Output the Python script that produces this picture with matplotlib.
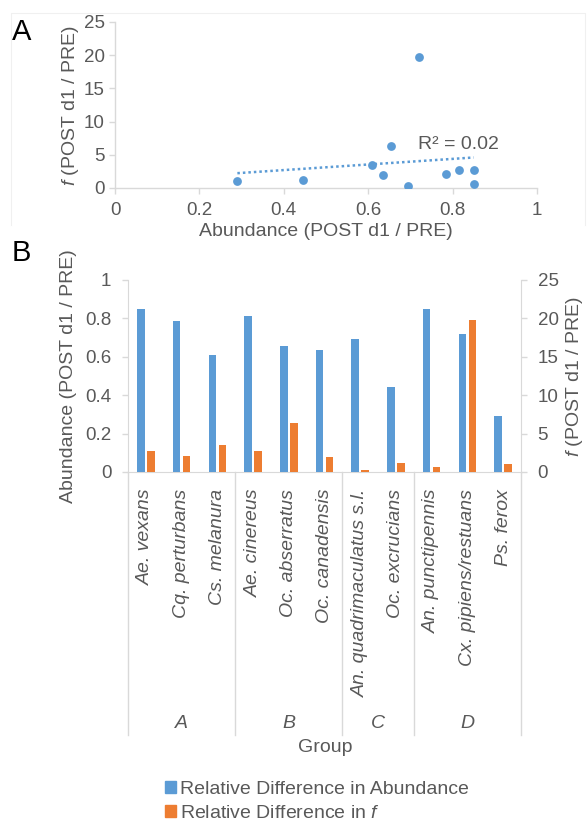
import numpy as np
import matplotlib
matplotlib.use("Agg")
import matplotlib.pyplot as plt
from matplotlib.patches import Patch
from matplotlib.lines import Line2D

plt.rcParams['font.family'] = ['Liberation Sans', 'DejaVu Sans']
plt.rcParams['mathtext.fontset'] = 'custom'
plt.rcParams['mathtext.rm'] = 'Liberation Sans'
plt.rcParams['mathtext.it'] = 'Liberation Sans:italic'

# data
species = ['Ae. vexans', 'Cq. perturbans', 'Cs. melanura', 'Ae. cinereus',
           'Oc. abserratus', 'Oc. canadensis', 'An. quadrimaculatus s.l.',
           'Oc. excrucians', 'An. punctipennis', 'Cx. pipiens/restuans', 'Ps. ferox']
abundance = [0.85, 0.785, 0.61, 0.815, 0.655, 0.635, 0.695, 0.445, 0.85, 0.72, 0.29]
f_ratio = [2.7, 2.1, 3.5, 2.67, 6.35, 1.9, 0.3, 1.2, 0.6, 19.8, 1.0]
groups = ['A', 'B', 'C', 'D']
group_sizes = [3, 3, 2, 3]

blue = '#5B9BD5'
orange = '#ED7D31'
axis_col = '#D9D9D9'
text_col = '#595959'
W, H = 587, 826

fig = plt.figure(figsize=(W / 100, H / 100), dpi=100)

def fx(px):
    return px / W

def fy(py):
    return 1 - py / H

# faint chart-area border of panel A (Excel)
fig.add_artist(Line2D([fx(11), fx(11), fx(585), fx(585)], [fy(225), fy(13), fy(13), fy(225)],
                      transform=fig.transFigure, color='#F0F0F0', lw=0.8))

# ---------- Panel A: scatter ----------
axA = fig.add_axes([fx(115), fy(188), fx(422), 166 / H])
axA.scatter(abundance, f_ratio, s=40, color=blue, zorder=3, linewidths=0)
coef = np.polyfit(abundance, f_ratio, 1)
xs = np.array([min(abundance), max(abundance)])
axA.plot(xs, np.polyval(coef, xs), ls=(0, (1, 1.2)), color=blue, lw=1.8)
axA.text(0.718, 6.5, 'R² = 0.02', fontsize=14, color=text_col, va='center', ha='left')
axA.set_xlim(0, 1)
axA.set_ylim(0, 25)
axA.set_xticks(np.arange(0, 1.01, 0.2))
axA.set_xticklabels(['0', '0.2', '0.4', '0.6', '0.8', '1'])
axA.set_yticks(np.arange(0, 26, 5))
for s in ['top', 'right']:
    axA.spines[s].set_visible(False)
for s in ['left', 'bottom']:
    axA.spines[s].set_color(axis_col)
    axA.spines[s].set_linewidth(1)
axA.tick_params(colors=axis_col, labelcolor=text_col, labelsize=13.5, length=4, width=1)
axA.tick_params(axis='x', pad=6)
axA.set_xlabel('Abundance (POST d1 / PRE)', fontsize=14, color=text_col, labelpad=3)
axA.set_ylabel('$f$ (POST d1 / PRE)', fontsize=14, color=text_col, labelpad=2)

# ---------- Panel B: bars ----------
axB = fig.add_axes([fx(128), fy(472), fx(393), 192 / H])
axB2 = axB.twinx()
x = np.arange(len(species))
bw = 0.21
axB.bar(x - 0.14, abundance, width=bw, color=blue, zorder=3)
axB2.bar(x + 0.14, f_ratio, width=bw, color=orange, zorder=3)
axB.set_xlim(-0.5, len(species) - 0.5)
axB.set_ylim(0, 1)
axB2.set_ylim(0, 25)
axB.set_yticks(np.arange(0, 1.01, 0.2))
axB.set_yticklabels(['0', '0.2', '0.4', '0.6', '0.8', '1'])
axB2.set_yticks(np.arange(0, 26, 5))
axB.set_xticks(x)
axB.set_xticklabels(species, rotation=90, fontstyle='italic', fontsize=14, color=text_col)
axB.tick_params(axis='x', length=0, pad=12)
for a in (axB, axB2):
    for s in a.spines.values():
        s.set_visible(False)
    a.tick_params(axis='y', colors=axis_col, labelcolor=text_col, labelsize=13.5,
                  length=4, width=1)
axB.spines['left'].set_visible(True)
axB.spines['left'].set_color(axis_col)
axB.spines['bottom'].set_visible(True)
axB.spines['bottom'].set_color(axis_col)
axB2.spines['right'].set_visible(True)
axB2.spines['right'].set_color(axis_col)
axB.tick_params(axis='y', pad=8)
axB2.tick_params(axis='y', pad=8)
axB.set_ylabel('Abundance (POST d1 / PRE)', fontsize=14, color=text_col, labelpad=6)
axB2.set_ylabel('$f$ (POST d1 / PRE)', fontsize=14, color=text_col, labelpad=4)

# multi-level category axis: group separators and group names
trans = axB.get_xaxis_transform()
bottom = -(735 - 472) / 192
edges = np.concatenate([[0], np.cumsum(group_sizes)]) - 0.5
for e in edges:
    axB.plot([e, e], [0, bottom], color=axis_col, lw=1, transform=trans, clip_on=False)
for g, a0, a1 in zip(groups, edges[:-1], edges[1:]):
    axB.text((a0 + a1) / 2, -(723 - 472) / 192, g, transform=trans, ha='center',
             va='center', fontsize=14, fontstyle='italic', color=text_col)
fig.text(fx(325), fy(748), 'Group', ha='center', va='center', fontsize=14, color=text_col)

# legend
handles = [Patch(color=blue, label='Relative Difference in Abundance'),
           Patch(color=orange, label='Relative Difference in $f$')]
fig.legend(handles=handles, loc='upper left', bbox_to_anchor=(fx(155), fy(771)),
           frameon=False, fontsize=14, handlelength=0.6, handleheight=0.6,
           handletextpad=0.2, labelspacing=0.35, borderpad=0, labelcolor=text_col)

# panel letters
fig.text(fx(12), fy(32), 'A', fontsize=21, va='center', ha='left')
fig.text(fx(12), fy(253), 'B', fontsize=21, va='center', ha='left')

fig.savefig('out.png', dpi=100)
